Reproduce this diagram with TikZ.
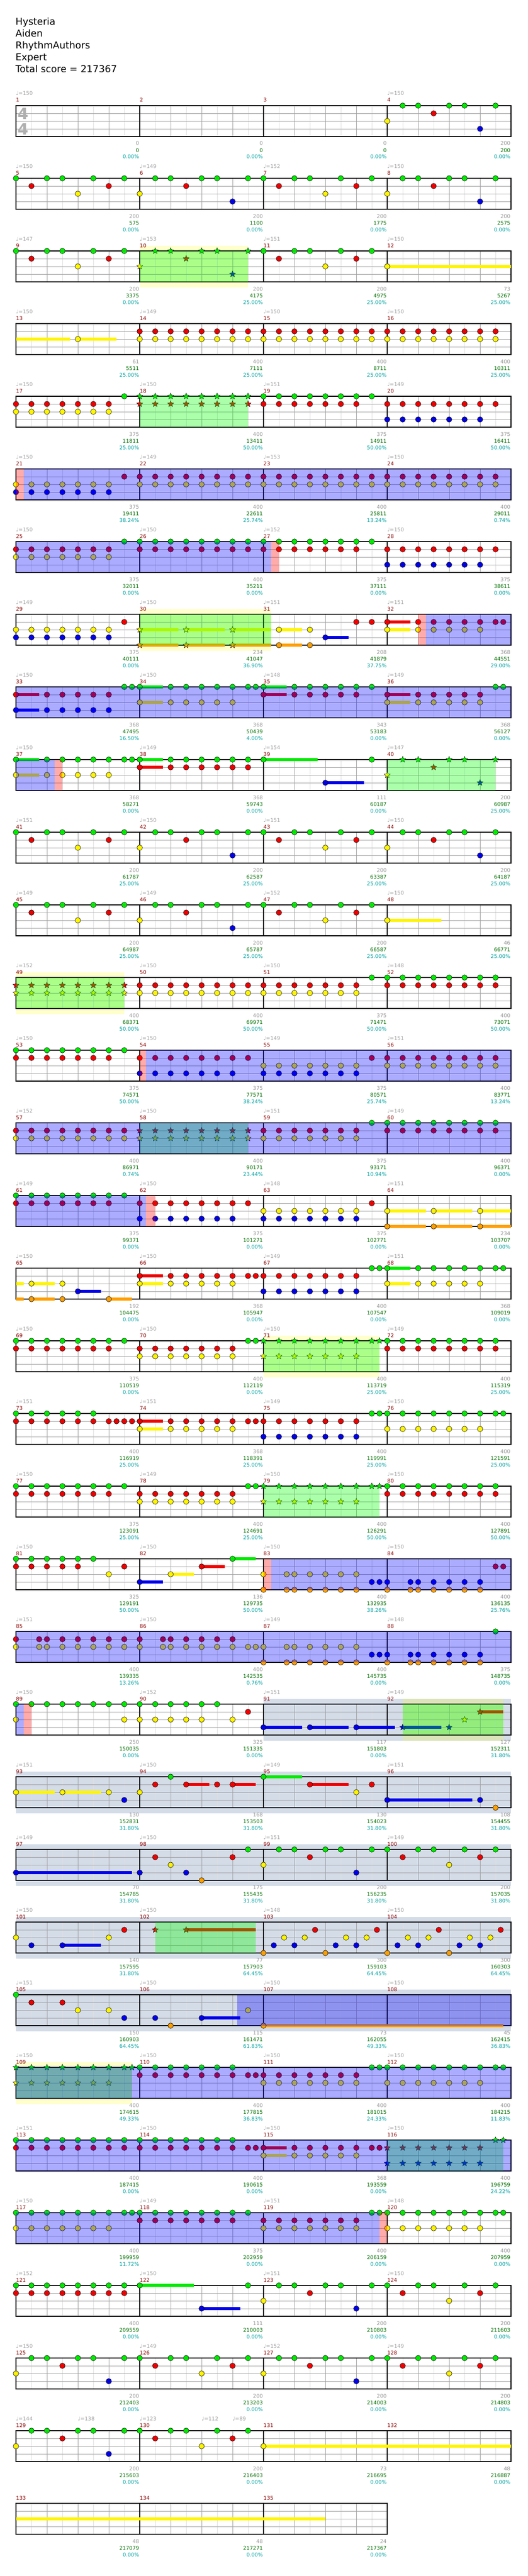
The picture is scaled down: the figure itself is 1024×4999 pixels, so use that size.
\documentclass[tikz,border=0pt]{standalone}
\usepackage{fontspec}
\setmainfont{DejaVu Sans}
\usepackage{tikz}
\usetikzlibrary{shapes.geometric}
\definecolor{lane0}{RGB}{0,235,0}
\definecolor{lane1}{RGB}{240,0,0}
\definecolor{lane2}{RGB}{255,245,0}
\definecolor{lane3}{RGB}{0,0,235}
\definecolor{lane4}{RGB}{255,160,0}
\definecolor{numred}{RGB}{139,0,0}
\definecolor{tempogrey}{RGB}{160,160,160}
\definecolor{ptsgrey}{RGB}{150,150,150}
\definecolor{totgreen}{RGB}{0,110,0}
\definecolor{pctteal}{RGB}{0,160,160}
\definecolor{beatgrey}{RGB}{160,160,160}
\definecolor{halfgrey}{RGB}{222,222,222}
\definecolor{sigrey}{RGB}{175,175,175}
\definecolor{steelblue}{RGB}{212,220,232}
\tikzstyle{headline} = [anchor=base west, inner sep=0pt, font=\fontsize{18.5}{22}\selectfont]
\tikzstyle{mnum} = [anchor=base west, inner sep=0pt, text=numred, font=\fontsize{10}{12}\selectfont]
\tikzstyle{tempolabel} = [anchor=base west, inner sep=0pt, text=tempogrey, font=\fontsize{10}{12}\selectfont]
\tikzstyle{ptslabel} = [anchor=base east, inner sep=0pt, text=ptsgrey, font=\fontsize{10}{12}\selectfont]
\tikzstyle{totlabel} = [anchor=base east, inner sep=0pt, text=totgreen, font=\fontsize{10}{12}\selectfont]
\tikzstyle{pctlabel} = [anchor=base east, inner sep=0pt, text=pctteal, font=\fontsize{10}{12}\selectfont]
\tikzstyle{timesig} = [inner sep=0pt, text=sigrey, font=\fontsize{30}{30}\selectfont\bfseries]
\tikzstyle{halfline} = [draw=halfgrey, line width=0.8pt]
\tikzstyle{beatline} = [draw=beatgrey, line width=0.9pt]
\tikzstyle{measline} = [draw=black, line width=1.2pt]
\tikzstyle{gem} = [draw=black, line width=0.6pt]
\tikzstyle{stargem} = [star, star points=5, star point ratio=2.3, minimum size=12.5pt, inner sep=0pt, draw=black, line width=0.5pt]
\tikzstyle{phrase} = [fill={rgb,255:red,0;green,255;blue,0}, fill opacity=0.33]
\tikzstyle{activation} = [fill={rgb,255:red,0;green,0;blue,255}, fill opacity=0.33]
\tikzstyle{actstart} = [fill={rgb,255:red,255;green,0;blue,0}, fill opacity=0.33]
\tikzstyle{whammy} = [fill={rgb,255:red,255;green,255;blue,0}, fill opacity=0.2]
\tikzstyle{steel} = [fill=steelblue]
% staff: row, first measure, measures
\newcommand{\staff}[3]{%
  \pgfmathtruncatemacro\nb{8*#3-1}
  \pgfmathtruncatemacro\nq{4*#3-1}
  \pgfmathtruncatemacro\nm{#3-1}
  \foreach \j in {1,...,\nb} \draw[halfline] ({31+30*\j},{205+141*#1}) -- ++(0,60);
  \foreach \j in {1,...,\nq} \draw[beatline] ({31+60*\j},{205+141*#1}) -- ++(0,60);
  \foreach \l in {1,2,3} \draw[beatline] (31,{205+141*#1+15*\l}) -- ++({240*#3},0);
  \foreach \j in {1,...,\nm} \draw[measline] ({31+240*\j},{205+141*#1}) -- ++(0,60);
  \draw[measline] (31,{205+141*#1}) rectangle ++({240*#3},60);
  \foreach \j in {0,...,\nm} {\pgfmathtruncatemacro\mn{#2+\j}
    \node[mnum] (m\mn) at ({31+240*\j},{198+141*#1}) {\mn};}
}
\newcommand{\nts}[3]{\foreach \p in {#3} \draw[gem, fill=lane#2] ({31+30*\p},{205+141*#1+15*#2}) circle (5.3);}
\newcommand{\sts}[3]{\foreach \p [count=\i] in {#3} \node[stargem, fill=lane#2] (st#1-#2-\i) at ({31+30*\p},{205+141*#1+15*#2}) {};}
\newcommand{\sus}[4]{\fill[lane#2] ({31+30*#3},{205+141*#1+15*#2-3.2}) rectangle ({31+30*#4},{205+141*#1+15*#2+3.2});}
\newcommand{\region}[4]{\fill[#2] ({31+30*#3},{205+141*#1}) rectangle ({31+30*#4},{265+141*#1});}
\newcommand{\band}[4]{\fill[#2] ({31+30*#3},{195+141*#1}) rectangle ({31+30*#4},{276+141*#1});}
\newcommand{\patA}[2]{\foreach \d/\l in {0/0,1/1,2/0,3/0,4/2,5/0,6/1,7/0} \draw[gem, fill=lane\l] ({31+30*(#2+\d)},{205+141*#1+15*\l}) circle (5.3);}
\newcommand{\patB}[2]{\foreach \d/\l in {0/2,1/0,2/0,3/1,4/0,5/0,6/3,7/0} \draw[gem, fill=lane\l] ({31+30*(#2+\d)},{205+141*#1+15*\l}) circle (5.3);}
\newcommand{\bpm}[2]{\foreach \v [count=\i from 0] in {#2} \node[tempolabel] (tp#1-\i) at ({31+240*\i},{185+141*#1}) {♩=\v};}
\newcommand{\tempoat}[3]{\node[tempolabel] (tp#1-#2) at ({31+30*#2},{185+141*#1}) {♩=#3};}
\newcommand{\scores}[2]{\foreach \a/\b/\c [count=\j] in {#2} {
  \node[ptslabel] (pts#1-\j) at ({30+240*\j},{282+141*#1}) {\a};
  \node[totlabel] (tot#1-\j) at ({30+240*\j},{295+141*#1}) {\b};
  \node[pctlabel] (pct#1-\j) at ({30+240*\j},{308+141*#1}) {\c\%};}}

\begin{document}
\begin{tikzpicture}[x=1pt,y=-1pt]
\fill[white] (0,0) rectangle (1024,4999);
\useasboundingbox (0,0) rectangle (1024,4999);
\node[headline] (song) at (30,49) {Hysteria};
\node[headline] (artist) at (30,72) {Aiden};
\node[headline] (charter) at (30,95) {RhythmAuthors};
\node[headline] (level) at (30,118) {Expert};
\node[headline] (total) at (30,141) {Total score = 217367};

% measures 1-4
\staff{0}{1}{4}
\node[timesig] (sigtop) at (44.5,221) {4};
\node[timesig] (sigbot) at (44.5,251) {4};
\patB{0}{24}
\tempoat{0}{0}{150} \tempoat{0}{24}{150}
\scores{0}{0/0/0.00, 0/0/0.00, 0/0/0.00, 200/200/0.00}

% measures 5-8
\staff{1}{5}{4}
\patA{1}{0} \patB{1}{8} \patA{1}{16} \patB{1}{24}
\bpm{1}{150,149,152,150}
\scores{1}{200/575/0.00, 200/1100/0.00, 200/1775/0.00, 200/2575/0.00}

% measures 9-12
\band{2}{whammy}{8}{15}
\staff{2}{9}{4}
\sus{2}{2}{24}{32}
\patA{2}{0} \patA{2}{16}
\sts{2}{2}{8} \sts{2}{0}{9,10,12,13,15} \sts{2}{1}{11} \sts{2}{3}{14}
\nts{2}{2}{24}
\region{2}{phrase}{8}{15}
\bpm{2}{147,153,151,150}
\scores{2}{200/3375/0.00, 200/4175/25.00, 200/4975/25.00, 73/5267/25.00}

% measures 13-16
\staff{3}{13}{4}
\sus{3}{2}{0}{3.5} \sus{3}{2}{4}{6.5}
\nts{3}{2}{4,8,9,...,31}
\nts{3}{1}{8,9,...,31}
\bpm{3}{150,149,150,150}
\scores{3}{61/5511/25.00, 400/7111/25.00, 400/8711/25.00, 400/10311/25.00}

% measures 17-20
\staff{4}{17}{4}
\nts{4}{1}{0,1,...,6,16,17,...,22,24,25,...,31}
\nts{4}{2}{0,1,...,6}
\nts{4}{0}{7,16,17,...,23}
\sts{4}{0}{8,9,...,15} \sts{4}{1}{8,9,...,15}
\nts{4}{3}{24,25,...,30}
\region{4}{phrase}{8}{15}
\bpm{4}{150,150,151,149}
\scores{4}{375/11811/25.00, 400/13411/50.00, 375/14911/50.00, 375/16411/50.00}

% measures 21-24
\staff{5}{21}{4}
\nts{5}{2}{0,1,...,6,8,9,...,31}
\nts{5}{3}{0,1,...,6}
\nts{5}{1}{7,8,...,31}
\region{5}{actstart}{0}{0.5} \region{5}{activation}{0.5}{32}
\bpm{5}{150,149,153,150}
\scores{5}{375/19411/38.24, 400/22611/25.74, 400/25811/13.24, 400/29011/0.74}

% measures 25-28
\staff{6}{25}{4}
\nts{6}{1}{0,1,...,6,8,9,...,22,24,25,...,31}
\nts{6}{2}{0,1,...,6}
\nts{6}{0}{7,8,...,23}
\nts{6}{3}{24,25,...,30}
\region{6}{activation}{0}{16.5} \region{6}{actstart}{16.5}{17}
\bpm{6}{150,150,152,150}
\scores{6}{375/32011/0.00, 400/35211/0.00, 375/37111/0.00, 375/38611/0.00}

% measures 29-32
\band{7}{whammy}{8}{16.5}
\staff{7}{29}{4}
\sus{7}{2}{8}{10.5} \sus{7}{4}{8}{10.5} \sus{7}{2}{11}{13.5} \sus{7}{4}{11}{13.5}
\sus{7}{2}{14}{16.5} \sus{7}{4}{14}{16.5} \sus{7}{2}{17}{18.5} \sus{7}{4}{17}{18.5}
\sus{7}{3}{20}{21.5} \sus{7}{1}{24}{25.5} \sus{7}{2}{24}{25.5}
\nts{7}{2}{0,1,...,6,17,19,24,26,27,...,30}
\nts{7}{3}{0,1,...,6,20}
\nts{7}{1}{7,22,23,24,26,27,...,31,31.5}
\nts{7}{4}{17,19}
\sts{7}{2}{8,11,14} \sts{7}{4}{8,11,14}
\region{7}{phrase}{8}{16.5} \region{7}{actstart}{26}{26.5} \region{7}{activation}{26.5}{32}
\bpm{7}{149,150,151,151}
\scores{7}{375/40111/0.00, 234/41047/36.90, 208/41879/37.75, 368/44551/29.00}

% measures 33-36
\staff{8}{33}{4}
\sus{8}{1}{0}{1.5} \sus{8}{3}{0}{1.5} \sus{8}{0}{8}{9.5} \sus{8}{2}{8}{9.5}
\sus{8}{0}{16}{17.5} \sus{8}{1}{16}{17.5} \sus{8}{1}{24}{25.5} \sus{8}{2}{24}{25.5}
\nts{8}{1}{0,2,3,...,6,16,18,19,...,22,24,26,27,...,30}
\nts{8}{3}{0,2,3,...,6}
\nts{8}{0}{7,7.5,8,10,11,...,15,15.5,16,18,19,...,23,31,31.5}
\nts{8}{2}{8,10,11,...,14,24,26,27,...,30}
\region{8}{activation}{0}{32}
\bpm{8}{150,150,148,149}
\scores{8}{368/47495/16.50, 368/50439/4.00, 343/53183/0.00, 368/56127/0.00}

% measures 37-40
\staff{9}{37}{4}
\sus{9}{0}{0}{1.5} \sus{9}{2}{0}{1.5} \sus{9}{0}{8}{9.5} \sus{9}{1}{8}{9.5}
\sus{9}{0}{16}{19.5} \sus{9}{3}{20}{22.5}
\nts{9}{0}{0,2,3,...,7,7.5,8,10,11,...,16,23}
\nts{9}{2}{0,2,3,...,6}
\nts{9}{1}{8,10,11,...,15}
\nts{9}{3}{20}
\sts{9}{2}{24} \sts{9}{0}{25,26,28,29,31} \sts{9}{1}{27} \sts{9}{3}{30}
\region{9}{activation}{0}{2.5} \region{9}{actstart}{2.5}{3} \region{9}{phrase}{24}{31}
\bpm{9}{150,149,154,147}
\scores{9}{368/58271/0.00, 368/59743/0.00, 111/60187/0.00, 200/60987/25.00}

% measures 41-44
\staff{10}{41}{4}
\patA{10}{0} \patB{10}{8} \patA{10}{16} \patB{10}{24}
\bpm{10}{151,150,151,150}
\scores{10}{200/61787/25.00, 200/62587/25.00, 200/63387/25.00, 200/64187/25.00}

% measures 45-48
\staff{11}{45}{4}
\sus{11}{2}{24}{27.5}
\patA{11}{0} \patB{11}{8} \patA{11}{16} \nts{11}{2}{24}
\bpm{11}{149,149,152,150}
\scores{11}{200/64987/25.00, 200/65787/25.00, 200/66587/25.00, 46/66771/25.00}

% measures 49-52
\band{12}{whammy}{0}{7}
\staff{12}{49}{4}
\sts{12}{1}{0,1,...,7} \sts{12}{2}{0,1,...,7}
\nts{12}{1}{8,9,...,22,24,25,...,31}
\nts{12}{2}{8,9,...,22}
\nts{12}{0}{23,24,...,31}
\region{12}{phrase}{0}{7}
\bpm{12}{152,150,150,148}
\scores{12}{400/68371/50.00, 400/69971/50.00, 375/71471/50.00, 400/73071/50.00}

% measures 53-56
\staff{13}{53}{4}
\nts{13}{0}{0,1,...,7}
\nts{13}{1}{0,1,...,6,8,9,...,15,23,24,...,31}
\nts{13}{3}{8,9,...,14,16,17,...,22}
\nts{13}{2}{16,17,...,22,24,25,...,31}
\region{13}{actstart}{8}{8.4} \region{13}{activation}{8.4}{32}
\bpm{13}{150,150,149,151}
\scores{13}{375/74571/50.00, 375/77571/38.24, 375/80571/25.74, 400/83771/13.24}

% measures 57-60
\staff{14}{57}{4}
\nts{14}{1}{0,1,...,7,16,17,...,22,24,25,...,31}
\nts{14}{2}{0,1,...,7,16,17,...,22}
\sts{14}{1}{8,9,...,15} \sts{14}{2}{8,9,...,15}
\nts{14}{0}{23,24,...,31}
\region{14}{phrase}{8}{15} \region{14}{activation}{0}{32}
\bpm{14}{152,150,151,149}
\scores{14}{400/86971/0.74, 400/90171/23.44, 375/93171/10.94, 400/96371/0.00}

% measures 61-64
\staff{15}{61}{4}
\sus{15}{2}{24}{26.5} \sus{15}{4}{24}{26.5} \sus{15}{2}{27}{29.5} \sus{15}{4}{27}{29.5}
\sus{15}{2}{30}{32} \sus{15}{4}{30}{32}
\nts{15}{0}{0,1,...,7}
\nts{15}{1}{0,1,...,6,8,9,...,15,23}
\nts{15}{3}{8,9,...,14,16,17,...,22}
\nts{15}{2}{16,17,...,22,24,27,30}
\nts{15}{4}{24,27,30}
\region{15}{activation}{0}{8.4} \region{15}{actstart}{8.4}{9}
\bpm{15}{149,150,148,151}
\scores{15}{375/99371/0.00, 375/101271/0.00, 375/102771/0.00, 234/103707/0.00}

% measures 65-68
\staff{16}{65}{4}
\sus{16}{2}{0}{0.5} \sus{16}{4}{0}{0.5} \sus{16}{2}{1}{2.5} \sus{16}{4}{1}{2.5}
\sus{16}{3}{4}{5.5} \sus{16}{4}{6}{7.5} \sus{16}{1}{8}{9.5} \sus{16}{2}{8}{9.5}
\sus{16}{0}{24}{25.5} \sus{16}{2}{24}{25.5}
\nts{16}{2}{1,3,8,10,11,...,14,24,26,27,...,30}
\nts{16}{4}{1,3,6}
\nts{16}{3}{4,16,17,...,22}
\nts{16}{1}{8,10,11,...,15,15.5,16,17,...,22}
\nts{16}{0}{23,23.5,24,26,27,...,31,31.5}
\bpm{16}{150,150,149,151}
\scores{16}{192/104475/0.00, 368/105947/0.00, 400/107547/0.00, 368/109019/0.00}

% measures 69-72
\band{17}{whammy}{16}{23.5}
\staff{17}{69}{4}
\nts{17}{0}{0,1,...,7,15,15.5,24,25,...,31}
\nts{17}{1}{0,1,...,6,8,9,...,14,24,25,...,31}
\nts{17}{2}{8,9,...,14}
\sts{17}{0}{16,17,...,23,23.5} \sts{17}{2}{16,17,...,22}
\region{17}{phrase}{16}{23.5}
\bpm{17}{150,150,150,149}
\scores{17}{375/110519/0.00, 400/112119/0.00, 400/113719/25.00, 400/115319/25.00}

% measures 73-76
\staff{18}{73}{4}
\sus{18}{1}{8}{9.5} \sus{18}{2}{8}{9.5}
\nts{18}{0}{0,1,...,5,23,23.5,24,25,...,31,31.5}
\nts{18}{1}{0,1,...,6,6.5,7,7.5,8,10,11,...,15,15.5,16,17,...,22}
\nts{18}{2}{8,10,11,...,14,24,25,...,30}
\nts{18}{3}{16,17,...,22}
\bpm{18}{151,151,149,150}
\scores{18}{400/116919/25.00, 368/118391/25.00, 400/119991/25.00, 400/121591/25.00}

% measures 77-80
\staff{19}{77}{4}
\nts{19}{0}{0,1,...,7,15,15.5,24,25,...,31}
\nts{19}{1}{0,1,...,6,8,9,...,14,24,25,...,31}
\nts{19}{2}{8,9,...,14}
\sts{19}{0}{16,17,...,23,23.5} \sts{19}{2}{16,17,...,22}
\region{19}{phrase}{16}{23.5}
\bpm{19}{150,149,150,150}
\scores{19}{375/123091/25.00, 400/124691/25.00, 400/126291/50.00, 400/127891/50.00}

% measures 81-84
\staff{20}{81}{4}
\sus{20}{3}{8}{9.5} \sus{20}{2}{10}{11.5} \sus{20}{1}{12}{13.5} \sus{20}{0}{14}{15.5}
\nts{20}{0}{0,1,...,5,14}
\nts{20}{1}{0,1,...,4,7,12,31,31.5}
\nts{20}{2}{6,10,16,17.5,18,19,...,22}
\nts{20}{3}{8,23,23.5,24,25.5,26,27,...,30}
\nts{20}{4}{16,17.5,18,19,...,22,24,25.5,26,27,...,30}
\region{20}{actstart}{16}{16.5} \region{20}{activation}{16.5}{32}
\bpm{20}{150,150,150,150}
\scores{20}{325/129191/50.00, 136/129735/50.00, 400/132935/38.26, 400/136135/25.76}

% measures 85-88
\staff{21}{85}{4}
\nts{21}{1}{0,1.5,2,3,...,8,9.5,10,11,...,14}
\nts{21}{2}{0,1.5,2,3,...,8,9.5,10,11,...,15,15.5,16,17.5,18,19,...,22}
\nts{21}{4}{16,17.5,18,19,...,22,24,25.5,26,27,...,30}
\nts{21}{3}{23,23.5,24,25.5,26,27,...,30}
\nts{21}{0}{31}
\region{21}{activation}{0}{32}
\bpm{21}{151,150,149,148}
\scores{21}{400/139335/13.26, 400/142535/0.76, 400/145735/0.00, 375/148735/0.00}

% measures 89-92
\band{22}{steel}{16}{32} \band{22}{whammy}{25}{31.5}
\staff{22}{89}{4}
\sus{22}{3}{16}{18.5} \sus{22}{3}{19}{21.5} \sus{22}{3}{22}{24.5} \sus{22}{3}{25}{27.5} \sus{22}{1}{30}{31.5}
\nts{22}{0}{0,1,...,13}
\nts{22}{2}{0,7,8,...,12,14}
\nts{22}{1}{15}
\nts{22}{3}{16,19,22}
\sts{22}{3}{25,28} \sts{22}{2}{29} \sts{22}{1}{30}
\region{22}{activation}{0}{0.5} \region{22}{actstart}{0.5}{1} \region{22}{phrase}{25}{31.5}
\bpm{22}{150,152,151,149}
\scores{22}{250/150035/0.00, 325/151335/0.00, 117/151803/0.00, 127/152311/31.80}

% measures 93-96
\band{23}{steel}{0}{32}
\staff{23}{93}{4}
\sus{23}{2}{0}{2.5} \sus{23}{2}{3}{5.5} \sus{23}{1}{11}{12.5} \sus{23}{1}{14}{15.5}
\sus{23}{0}{16}{18.5} \sus{23}{1}{19}{21.5} \sus{23}{3}{24}{29.5}
\nts{23}{2}{0,3,6,8,22}
\nts{23}{3}{7,24,30}
\nts{23}{1}{9,11,13,14,19,23}
\nts{23}{0}{10,16}
\nts{23}{4}{31}
\bpm{23}{151,150,149,151}
\scores{23}{130/152831/31.80, 168/153503/31.80, 130/154023/31.80, 108/154455/31.80}

% measures 97-100
\band{24}{steel}{0}{32}
\staff{24}{97}{4}
\sus{24}{3}{0}{7.5}
\nts{24}{3}{0,8,11,22}
\nts{24}{1}{9,14,19,25,30}
\nts{24}{2}{10,16,28}
\nts{24}{4}{12}
\nts{24}{0}{15,17,18,20,21,23,24,26,27,29,31}
\bpm{24}{149,150,151,149}
\scores{24}{70/154785/31.80, 175/155435/31.80, 200/156235/31.80, 200/157035/31.80}

% measures 101-104
\band{25}{steel}{0}{32}
\staff{25}{101}{4}
\sus{25}{3}{3}{5.5} \sus{25}{1}{11}{15.5}
\nts{25}{2}{0,6} \nts{25}{3}{1,3} \nts{25}{1}{7}
\sts{25}{1}{9,11}
\foreach \q/\l in {0/4,1/3,2/2,3/3,4/2,5/1}
  \foreach \t in {16,20,24,28}
    \draw[gem, fill=lane\l] ({31+30*(\t+2*\q/3)},{205+141*25+15*\l}) circle (5.3);
\region{25}{phrase}{9}{15.5}
\bpm{25}{150,150,148,150}
\scores{25}{140/157595/31.80, 77/157903/64.45, 300/159103/64.45, 300/160303/64.45}

% measures 105-108
\band{26}{steel}{0}{32}
\staff{26}{105}{4}
\sus{26}{3}{12}{14.5} \sus{26}{4}{16}{31.5}
\nts{26}{0}{0} \nts{26}{1}{1,3} \nts{26}{2}{4,6,15} \nts{26}{3}{7,9,12} \nts{26}{4}{10,16}
\region{26}{activation}{14.3}{32}
\bpm{26}{151,150,150,150}
\scores{26}{150/160903/64.45, 115/161471/61.83, 73/162055/49.33, 45/162415/36.83}

% measures 109-112
\band{27}{whammy}{0}{7.5}
\staff{27}{109}{4}
\sts{27}{0}{0,1,...,7,7.5} \sts{27}{2}{0,1,...,6}
\nts{27}{0}{8,9,...,14,23,23.5,24,25,...,31,31.5}
\nts{27}{1}{8,9,...,15,15.5,16,17,...,22}
\nts{27}{2}{16,17,...,22,24,25,...,30}
\region{27}{phrase}{0}{7.5} \region{27}{activation}{0}{32}
\bpm{27}{150,150,150,150}
\scores{27}{400/174615/49.33, 400/177815/36.83, 400/181015/24.33, 400/184215/11.83}

% measures 113-116
\staff{28}{113}{4}
\sus{28}{1}{16}{17.5} \sus{28}{2}{16}{17.5}
\nts{28}{0}{0,1,...,14}
\nts{28}{1}{0,1,...,15,15.5,16,18,19,...,23,23.5}
\nts{28}{2}{16,18,19,...,22}
\sts{28}{1}{24,25,...,30} \sts{28}{3}{24,25,...,30} \sts{28}{0}{31,31.5}
\region{28}{phrase}{24}{31.5} \region{28}{activation}{0}{32}
\bpm{28}{151,150,150,150}
\scores{28}{400/187415/0.00, 400/190615/0.00, 368/193559/0.00, 400/196759/24.22}

% measures 117-120
\staff{29}{117}{4}
\nts{29}{0}{0,1,...,7,7.5,8,9,...,15,23,23.5,24,25,...,31,31.5}
\nts{29}{2}{0,1,...,6,16,17,...,22,24,25,...,30}
\nts{29}{1}{8,9,...,14,16,17,...,22}
\region{29}{activation}{0}{23.5} \region{29}{actstart}{23.5}{24}
\bpm{29}{150,149,151,148}
\scores{29}{400/199959/11.72, 375/202959/0.00, 400/206159/0.00, 400/207959/0.00}

% measures 121-124
\staff{30}{121}{4}
\sus{30}{0}{8}{11.5} \sus{30}{3}{12}{14.5}
\nts{30}{0}{0,1,...,8,15}
\nts{30}{1}{0,1,...,7}
\nts{30}{3}{12}
\patB{30}{16} \patA{30}{24}
\bpm{30}{152,150,151,150}
\scores{30}{400/209559/0.00, 111/210003/0.00, 200/210803/0.00, 200/211603/0.00}

% measures 125-128
\staff{31}{125}{4}
\patB{31}{0} \patA{31}{8} \patB{31}{16} \patA{31}{24}
\bpm{31}{150,149,152,149}
\scores{31}{200/212403/0.00, 200/213203/0.00, 200/214003/0.00, 200/214803/0.00}

% measures 129-132
\staff{32}{129}{4}
\sus{32}{2}{16}{32}
\patB{32}{0} \patA{32}{8} \nts{32}{2}{16}
\tempoat{32}{0}{144} \tempoat{32}{4}{138} \tempoat{32}{8}{123} \tempoat{32}{12}{112} \tempoat{32}{14}{89}
\scores{32}{200/215603/0.00, 200/216403/0.00, 73/216695/0.00, 48/216887/0.00}

% measures 133-135
\staff{33}{133}{3}
\sus{33}{2}{0}{20}
\scores{33}{48/217079/0.00, 48/217271/0.00, 24/217367/0.00}
\end{tikzpicture}
\end{document}
